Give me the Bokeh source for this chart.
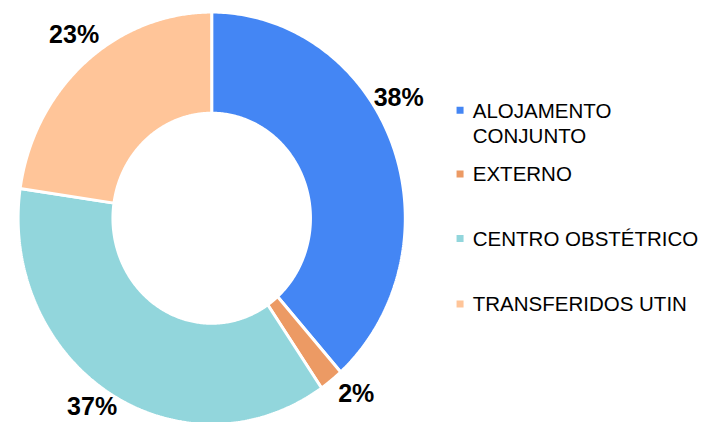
import numpy as np
from bokeh.plotting import figure
from bokeh.models import ColumnDataSource, Range1d
from bokeh.core.properties import value
from bokeh.embed import file_html
from bokeh.resources import INLINE

# ---- data ----
categories = ["ALOJAMENTO CONJUNTO", "EXTERNO", "CENTRO OBSTÉTRICO", "TRANSFERIDOS UTIN"]
shares = [38.4, 2.0, 36.9, 22.7]
pct_labels = ["38%", "2%", "37%", "23%"]
colors = ["#4486F4", "#EC9A64", "#92D6DC", "#FFC599"]

# ---- layout (reference-pixel coordinates, 720 x 438 canvas) ----
W, H = 704, 422
CX, CY = 216, 226
RX_OUT, RY_OUT = 198, 214
RX_IN, RY_IN = 101, 109
label_r = [1.13, 1.13, 1.10, 1.14]
label_nudge_deg = [-10.4, -3.2, 2.3, 2.3]
legend_row_y = [114, 180, 247, 315]
legend_line_gap = 26
legend_square_x = 470
legend_text_x = 483

p = figure(width=W, height=H, output_backend="svg", toolbar_location=None,
           x_range=Range1d(0, 720), y_range=Range1d(438, 0),
           min_border=0, outline_line_color=None)
p.axis.visible = False
p.grid.visible = False
p.background_fill_color = "white"
p.border_fill_color = "white"

total = float(sum(shares))
fr = np.cumsum([0.0] + list(shares)) / total
xs, ys = [], []
for i in range(len(shares)):
    t = np.linspace(fr[i], fr[i + 1], 200) * 2 * np.pi
    ox = CX + RX_OUT * np.sin(t)
    oy = CY - RY_OUT * np.cos(t)
    ix = CX + RX_IN * np.sin(t[::-1])
    iy = CY - RY_IN * np.cos(t[::-1])
    xs.append(np.concatenate([ox, ix]).tolist())
    ys.append(np.concatenate([oy, iy]).tolist())

src = ColumnDataSource(dict(xs=xs, ys=ys, color=colors))
p.patches("xs", "ys", source=src, fill_color="color", line_color="white", line_width=3)

# percentage labels
mid = (fr[:-1] + fr[1:]) / 2 * 2 * np.pi + np.radians(label_nudge_deg)
lr = np.array(label_r)
lx = CX + lr * RX_OUT * np.sin(mid)
ly = CY - lr * RY_OUT * np.cos(mid)
p.text(x=lx, y=ly, text=pct_labels, text_font=value("Liberation Sans"),
       text_font_style="bold", text_font_size="25px", text_color="black",
       text_align="center", text_baseline="middle")

# legend
sq_x, sq_y, sq_c = [], [], []
tx, ty, tt = [], [], []
for i, name in enumerate(categories):
    lines = name.split(" ", 1) if len(name) > 18 else [name]
    sq_x.append(legend_square_x)
    sq_y.append(legend_row_y[i])
    sq_c.append(colors[i])
    for j, ln in enumerate(lines):
        tx.append(legend_text_x)
        ty.append(legend_row_y[i] + j * legend_line_gap)
        tt.append(ln)
p.scatter(x=sq_x, y=sq_y, marker="square", size=7, fill_color=sq_c, line_color=None)
p.text(x=tx, y=ty, text=tt, text_font=value("Liberation Sans"),
       text_font_size="20.5px", text_color="black",
       text_align="left", text_baseline="middle")

open("out.html", "w").write(file_html(p, INLINE))
